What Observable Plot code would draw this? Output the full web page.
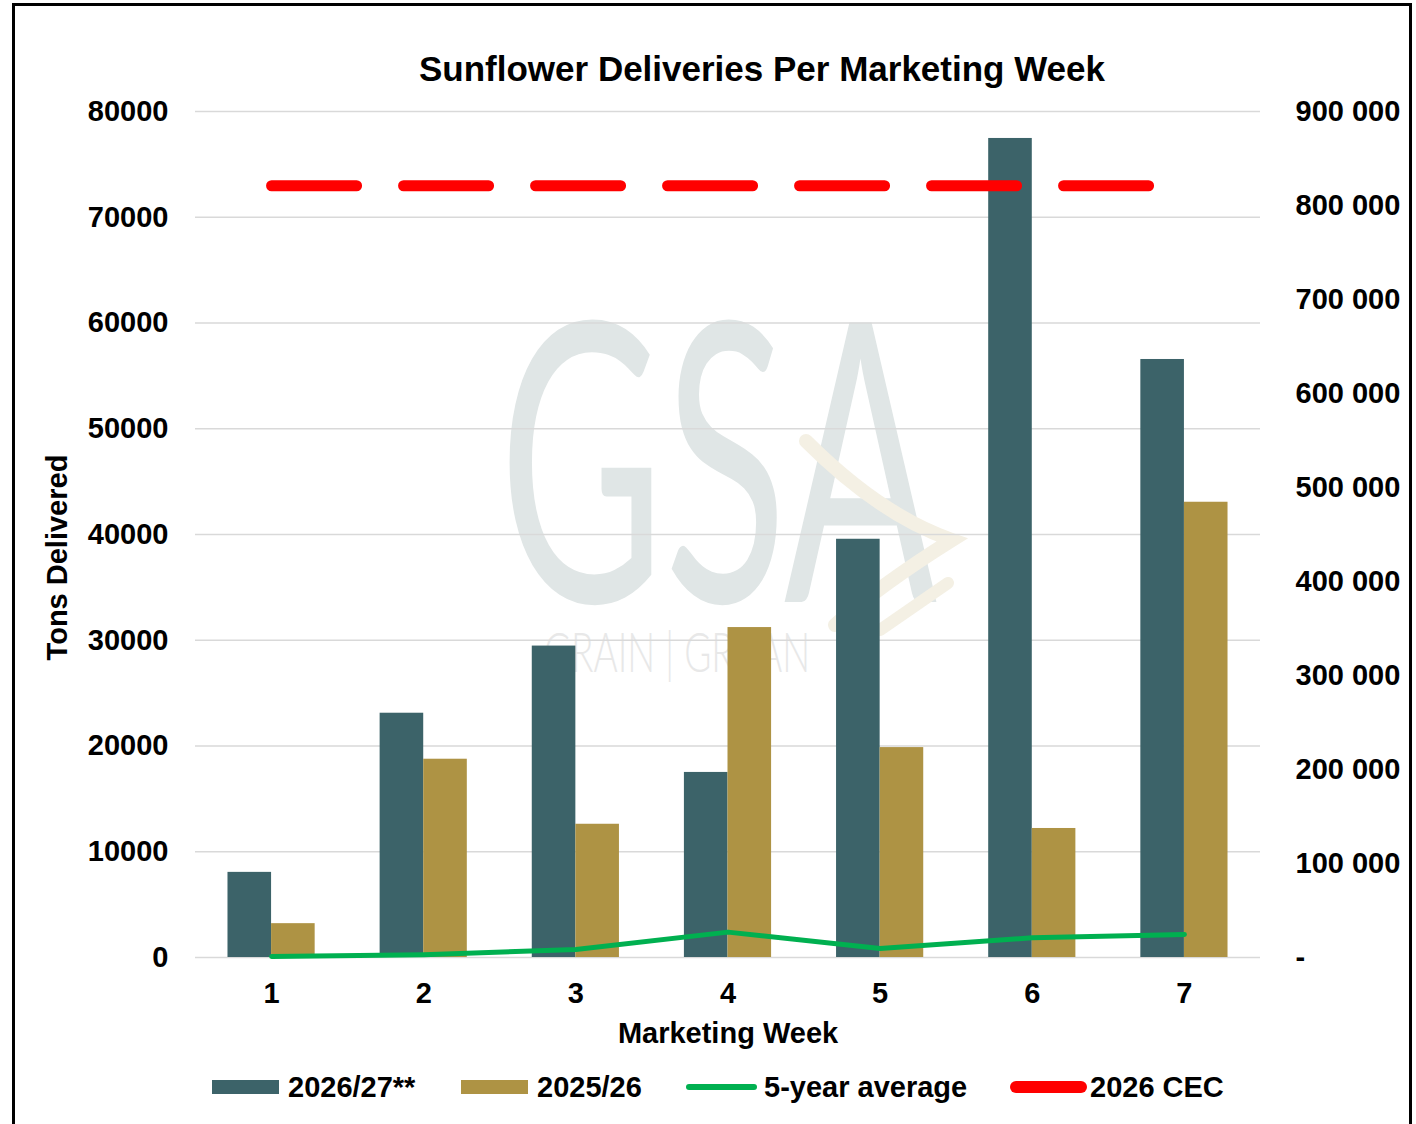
<!DOCTYPE html>
<html>
<head>
<meta charset="utf-8">
<script src="https://cdn.jsdelivr.net/npm/d3@7"></script>
<script src="https://cdn.jsdelivr.net/npm/@observablehq/plot@0.6"></script>
<style>
  html, body { margin: 0; padding: 0; background: #fff; }
  #wrap { position: relative; width: 1416px; height: 1124px; overflow: hidden; background: #fff;
          font-family: "Liberation Sans", Arial, sans-serif; font-weight: bold; color: #000; }
  #border { position: absolute; left: 12px; top: 3px; width: 1400px; height: 1200px;
            border: 3px solid #000; box-sizing: border-box; }
  #title { position: absolute; left: 262px; width: 1000px; top: 51px; text-align: center;
           font-size: 35px; line-height: 35px; white-space: nowrap; }
  #chart { position: absolute; left: 0; top: 95px; }
  .lg-text { position: absolute; top: 1073px; font-size: 29px; line-height: 29px; white-space: nowrap; }
  .lg-sw { position: absolute; }
</style>
</head>
<body>
<div id="wrap">
  <div id="border"></div>
  <div id="title">Sunflower Deliveries Per Marketing Week</div>
  <div id="chart"></div>
  <div id="legend"></div>
</div>
<script>
// ---------------- DATA ----------------
const weeks = [1, 2, 3, 4, 5, 6, 7];
const deliveries2026_27 = [8050, 23100, 29450, 17500, 39550, 77450, 56550];
const deliveries2025_26 = [3200, 18750, 12600, 31200, 19850, 12200, 43050];
const fiveYearAverage = [1000, 3000, 8500, 27000, 9500, 21000, 24500]; // secondary axis (tons)
const cec2026 = 821000; // secondary axis (tons)
const leftTicks = [0, 10000, 20000, 30000, 40000, 50000, 60000, 70000, 80000];
const rightTicks = [0, 100000, 200000, 300000, 400000, 500000, 600000, 700000, 800000, 900000];
const rightTickLabels = ["-", "100 000", "200 000", "300 000", "400 000", "500 000", "600 000", "700 000", "800 000", "900 000"];
const seriesNames = ["2026/27**", "2025/26", "5-year average", "2026 CEC"];
const seriesColors = ["#3c6369", "#ae9344", "#00b050", "#ff0000"];

// ---------------- BUILD ----------------
const leftMax = 80000, rightMax = 900000;
const toLeft = v => v * leftMax / rightMax;
const rows = weeks.map((w, i) => ({
  week: w,
  current: deliveries2026_27[i],
  previous: deliveries2025_26[i],
  avg: toLeft(fiveYearAverage[i]),
  cec: toLeft(cec2026)
}));

const W = 1416, H = 960, mL = 195, mR = 156, mT = 16, mB = 98;
const padIn = 0.427, padOut = padIn / 2;
const step = (W - mL - mR) / (weeks.length - padIn + 2 * padOut);
const half = step * (1 - padIn) / 2;
const font = "Liberation Sans, Arial, sans-serif";

const plot = Plot.plot({
  width: W, height: H,
  marginLeft: mL, marginRight: mR, marginTop: mT, marginBottom: mB,
  style: { fontFamily: font, fontSize: "29px", fontWeight: "bold", color: "#000", background: "transparent", overflow: "visible" },
  x: { type: "band", domain: weeks, paddingInner: padIn, paddingOuter: padOut, round: false, axis: null, label: null },
  y: { domain: [0, leftMax], axis: null, label: null },
  marks: [
    Plot.gridY(leftTicks, { stroke: "#d9d9d9", strokeOpacity: 1, strokeWidth: 1.5 }),
    Plot.barY(rows, { x: "week", y: "current", fill: seriesColors[0], insetRight: half }),
    Plot.barY(rows, { x: "week", y: "previous", fill: seriesColors[1], insetLeft: half }),
    Plot.lineY(rows, { x: "week", y: "avg", stroke: seriesColors[2], strokeWidth: 5, strokeLinecap: "round", strokeLinejoin: "round" }),
    Plot.lineY(rows, { x: "week", y: "cec", stroke: seriesColors[3], strokeWidth: 11, strokeLinecap: "round", strokeDasharray: "85,47" }),
    Plot.axisY(leftTicks, { anchor: "left", label: null, tickSize: 0, tickPadding: 27, tickFormat: d => String(d), fontSize: 29, fontWeight: "bold", fill: "#000" }),
    Plot.axisY(rightTicks.map(toLeft), { anchor: "right", label: null, tickSize: 0, tickPadding: 35,
      tickFormat: d => rightTickLabels[rightTicks.indexOf(Math.round(d * rightMax / leftMax))],
      fontSize: 29, fontWeight: "bold", fill: "#000" }),
    Plot.axisX(weeks, { anchor: "bottom", label: null, tickSize: 0, tickPadding: 25, fontSize: 29, fontWeight: "bold", fill: "#000" }),
    Plot.text(["Marketing Week"], { frameAnchor: "bottom", text: d => d, textAnchor: "middle", dy: 85, fontSize: 29, fontWeight: "bold", fill: "#000" }),
    Plot.text(["Tons Delivered"], { frameAnchor: "left", text: d => d, textAnchor: "middle", rotate: -90, dx: -138, dy: 23, fontSize: 29, fontWeight: "bold", fill: "#000" })
  ]
});

// faint watermark behind the data (decoration)
const svg = d3.select(plot);
const wm = svg.insert("g", "g").attr("aria-label", "watermark");
wm.append("text").text("GSA")
  .attr("transform", "translate(718,507) scale(0.58,1)")
  .attr("text-anchor", "middle").attr("font-family", "Lato, 'Open Sans', sans-serif")
  .attr("font-weight", 400).attr("font-size", 390).attr("fill", "#e0e6e6");
wm.append("text").text("GRAIN | GRAAN")
  .attr("transform", "translate(677,577) scale(0.66,1)")
  .attr("text-anchor", "middle").attr("font-family", "Lato, 'Open Sans', sans-serif")
  .attr("font-weight", 300).attr("font-size", 56).attr("fill", "#e8e8e8");
wm.append("path").attr("d", "M806,346 Q880,420 952,445 Q880,490 835,530")
  .attr("fill", "none").attr("stroke", "#f4f0e4").attr("stroke-width", 14).attr("stroke-linecap", "round");
wm.append("path").attr("d", "M948,488 L880,535")
  .attr("fill", "none").attr("stroke", "#f4f0e4").attr("stroke-width", 12).attr("stroke-linecap", "round");

document.getElementById("chart").appendChild(plot);

// ---------------- LEGEND ----------------
const legend = document.getElementById("legend");
const legendItems = [
  { sw: { left: 212, top: 1080, width: 67, height: 14, radius: 0 }, textLeft: 288 },
  { sw: { left: 461, top: 1080, width: 67, height: 14, radius: 0 }, textLeft: 537 },
  { sw: { left: 686, top: 1084, width: 71, height: 6, radius: 3 }, textLeft: 764 },
  { sw: { left: 1010, top: 1081, width: 77, height: 12, radius: 6 }, textLeft: 1090 }
];
legendItems.forEach((it, i) => {
  const s = document.createElement("div");
  s.className = "lg-sw";
  Object.assign(s.style, { left: it.sw.left + "px", top: it.sw.top + "px", width: it.sw.width + "px",
    height: it.sw.height + "px", borderRadius: it.sw.radius + "px", background: seriesColors[i] });
  legend.appendChild(s);
  const t = document.createElement("div");
  t.className = "lg-text";
  t.style.left = it.textLeft + "px";
  t.textContent = seriesNames[i];
  legend.appendChild(t);
});
</script>
</body>
</html>
